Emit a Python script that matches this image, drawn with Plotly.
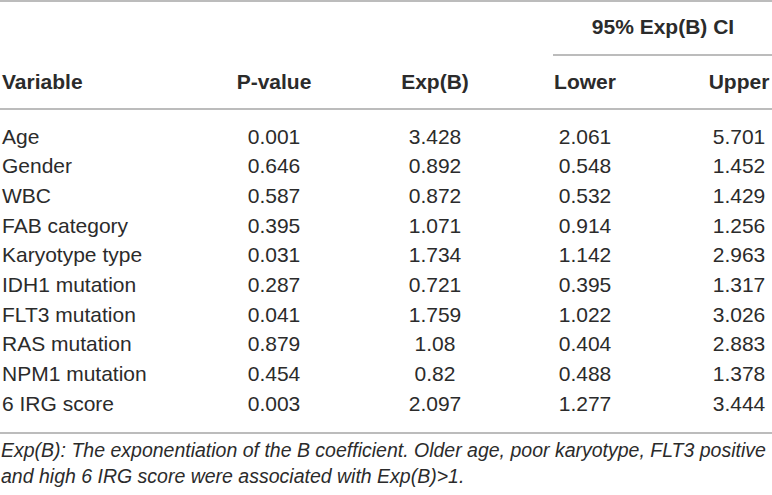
import plotly.graph_objects as go

variables = ["Age", "Gender", "WBC", "FAB category", "Karyotype type",
             "IDH1 mutation", "FLT3 mutation", "RAS mutation",
             "NPM1 mutation", "6 IRG score"]
p_values = [0.001, 0.646, 0.587, 0.395, 0.031, 0.287, 0.041, 0.879, 0.454, 0.003]
exp_b = [3.428, 0.892, 0.872, 1.071, 1.734, 0.721, 1.759, 1.08, 0.82, 2.097]
ci_lower = [2.061, 0.548, 0.532, 0.914, 1.142, 0.395, 1.022, 0.404, 0.488, 1.277]
ci_upper = [5.701, 1.452, 1.429, 1.256, 2.963, 1.317, 3.026, 2.883, 1.378, 3.444]

headers = ["Variable", "P-value", "Exp(B)", "Lower", "Upper"]
group_header = "95% Exp(B) CI"
footnote = ["Exp(B): The exponentiation of the B coefficient. Older age, poor karyotype, FLT3 positive",
            "and high 6 IRG score were associated with Exp(B)>1."]

W, H = 772, 495
FONT = "Liberation Sans"
TXT = "#2b2b2b"
LINE = "#a6a6a6"
FS = 21

col_x = [2, 274, 435, 585, 739]
head_y = 84
row_y0 = 138.5
row_step = 29.65

fig = go.Figure()

# header row
for i, h in enumerate(headers):
    fig.add_trace(go.Scatter(
        x=[col_x[i]], y=[head_y], mode="text", text=[h],
        textposition="middle right" if i == 0 else "middle center",
        textfont=dict(family=FONT, size=FS, color=TXT, weight="bold"),
        hoverinfo="skip", showlegend=False))

fig.add_trace(go.Scatter(
    x=[(col_x[3] + col_x[4]) / 2 + 1], y=[29], mode="text", text=[group_header],
    textposition="middle center",
    textfont=dict(family=FONT, size=FS, color=TXT, weight="bold"),
    hoverinfo="skip", showlegend=False))

# body
rows_y = [row_y0 + k * row_step for k in range(len(variables))]
columns = [variables, [str(v) for v in p_values], [str(v) for v in exp_b],
           [str(v) for v in ci_lower], [str(v) for v in ci_upper]]
for i, col in enumerate(columns):
    fig.add_trace(go.Scatter(
        x=[col_x[i]] * len(col), y=rows_y, mode="text", text=col,
        textposition="middle right" if i == 0 else "middle center",
        textfont=dict(family=FONT, size=FS, color=TXT),
        hoverinfo="skip", showlegend=False))

# footnote
for k, line in enumerate(footnote):
    fig.add_trace(go.Scatter(
        x=[1], y=[452 + k * 26], mode="text", text=["<i>" + line + "</i>"],
        textposition="middle right",
        textfont=dict(family=FONT, size=19.5, color=TXT),
        hoverinfo="skip", showlegend=False))

# rules
rules = [(0, W, 1), (553, W, 55), (0, W, 109), (0, W, 433)]
for x0, x1, y in rules:
    fig.add_shape(type="line", x0=x0, x1=x1, y0=y, y1=y,
                  line=dict(color=LINE, width=1.5), layer="below")

fig.update_layout(
    width=W, height=H,
    margin=dict(l=0, r=0, t=0, b=0),
    paper_bgcolor="white", plot_bgcolor="white",
    xaxis=dict(range=[0, W], visible=False, fixedrange=True),
    yaxis=dict(range=[H, 0], visible=False, fixedrange=True),
)

# drop the page's default body margin so the figure sits at the window's corner
fig.write_html("out.html", config={"displayModeBar": False},
               post_script="document.body.style.margin='0';document.body.style.overflow='hidden';")
